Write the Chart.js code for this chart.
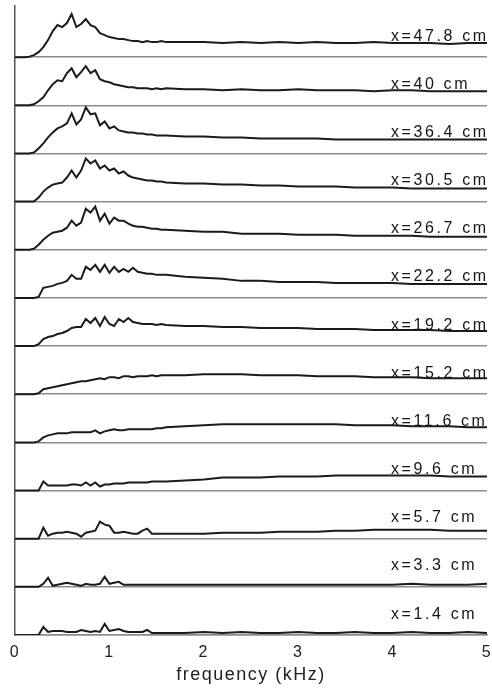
<!DOCTYPE html>
<html lang="en">
<head>
    <meta charset="UTF-8">
    <title>Spectra along the channel</title>
    <script src="https://cdn.jsdelivr.net/npm/chart.js"></script>
    <style>
        html, body { margin: 0; padding: 0; background: #fff; }
        #caixa { width: 492px; height: 689px; }
    </style>
</head>
<body>
    <div id="caixa"><canvas id="grafico"></canvas></div>

    <script>
        // frequency grid (kHz): fine up to 1.6 kHz, coarser above
        const freq = [0, 0.05, 0.1, 0.15, 0.2, 0.25, 0.3, 0.35, 0.4, 0.45, 0.5,
            0.55, 0.6, 0.65, 0.7, 0.75, 0.8, 0.85, 0.9, 0.95, 1, 1.05,
            1.1, 1.15, 1.2, 1.25, 1.3, 1.35, 1.4, 1.45, 1.5, 1.55, 1.6,
            1.8, 2, 2.2, 2.4, 2.6, 2.8, 3, 3.2, 3.4, 3.6, 3.8, 4, 4.2, 4.4, 4.6, 4.8, 5];

        // spectral level above each trace's own baseline (a.u.), one array per position
        const x478 = [0, 0, 0, 0.5, 2, 5, 10, 17, 26, 32, 30,
            34, 43, 30, 33, 38, 32, 30, 24, 22, 20, 19,
            18, 18, 17, 16, 16, 15, 16, 15, 15, 16, 15,
            15, 15, 14, 15, 14, 15, 14, 15, 14, 14, 15, 14, 14, 14, 13, 14, 14];
        const x400 = [0, 0, 0, 0, 1, 4, 8, 15, 21, 25, 24,
            32, 37, 28, 33, 39, 32, 35, 26, 24, 23, 21,
            20, 19, 18, 18, 17, 17, 17, 16, 17, 16, 17,
            16, 16, 15, 16, 15, 15, 16, 15, 15, 15, 14, 15, 15, 14, 14, 14, 14];
        const x364 = [0, 0, 0, 0, 1, 5, 10, 16, 21, 25, 27,
            30, 40, 29, 34, 46, 39, 40, 28, 32, 25, 27,
            23, 22, 21, 21, 20, 20, 19, 19, 18, 18, 18,
            17, 17, 16, 16, 15, 15, 15, 15, 14, 14, 14, 14, 14, 14, 14, 14, 14];
        const x305 = [0, 0, 0, 0, 0, 4, 10, 14, 17, 18, 19,
            24, 31, 24, 31, 43, 38, 41, 33, 36, 31, 33,
            28, 30, 26, 24, 23, 22, 21, 21, 20, 20, 19,
            18, 18, 17, 17, 16, 16, 15, 15, 15, 14, 14, 14, 13, 13, 13, 13, 13];
        const x267 = [0, 0, 0, 0, 1, 5, 10, 14, 17, 18, 19,
            22, 29, 24, 27, 41, 37, 43, 29, 36, 26, 32,
            29, 29, 26, 24, 23, 23, 22, 21, 21, 20, 20,
            19, 18, 18, 16, 16, 16, 15, 15, 15, 14, 14, 14, 14, 13, 13, 13, 13];
        const x222 = [0, 0, 0, 0, 0, 1, 10, 11, 12, 14, 15,
            17, 23, 19, 19, 31, 28, 33, 26, 33, 25, 31,
            26, 29, 26, 30, 26, 25, 24, 24, 23, 23, 23,
            21, 20, 19, 17, 17, 16, 16, 16, 15, 15, 15, 15, 14, 14, 14, 14, 14];
        const x192 = [0, 0, 0, 0, 0, 2, 7, 9, 10, 12, 13,
            15, 18, 19, 19, 27, 23, 28, 20, 29, 22, 20,
            27, 24, 28, 24, 23, 22, 22, 22, 21, 22, 21,
            20, 20, 19, 19, 18, 18, 18, 17, 17, 17, 16, 16, 16, 16, 15, 15, 15];
        const x152 = [0, 0, 0, 0, 0, 1, 5, 6, 7, 8, 9,
            10, 11, 12, 13, 13, 14, 15, 16, 15, 17, 17,
            16, 18, 18, 17, 18, 18, 18, 19, 18, 19, 19,
            19, 20, 20, 20, 19, 19, 19, 18, 18, 18, 17, 17, 17, 16, 16, 16, 16];
        const x116 = [0, 0, 0, 0, 0, 1, 5, 7, 8, 9, 9,
            9, 10, 10, 10, 10, 10, 12, 9, 11, 12, 13,
            12, 12, 13, 13, 13, 13, 13, 13, 14, 14, 15,
            16, 17, 18, 18, 18, 18, 18, 18, 18, 17, 17, 17, 16, 16, 16, 15, 15];
        const x96 = [0, 0, 0, 0, 0, 0, 9, 5, 5, 5, 5,
            5, 6, 6, 5, 8, 5, 8, 4, 6, 6, 7,
            7, 7, 8, 8, 8, 8, 8, 9, 9, 9, 9,
            10, 11, 13, 13, 13, 14, 14, 14, 15, 15, 15, 15, 15, 15, 14, 14, 14];
        const x57 = [0, 0, 0, 0, 0, 0, 11, 3, 5, 6, 6,
            7, 6, 5, 2, 6, 7, 8, 17, 14, 13, 6,
            6, 7, 6, 5, 5, 8, 10, 5, 5, 5, 5,
            5, 5, 6, 6, 6, 7, 7, 7, 8, 8, 9, 9, 9, 9, 8, 8, 8];
        const x33 = [0, 0, 0, 0, 0, 0, 3, 9, 1, 2, 3,
            4, 3, 2, 1, 3, 2, 2, 3, 10, 3, 4,
            5, 2, 2, 2, 2, 2, 2, 2, 2, 2, 2,
            2, 2, 2, 2, 2, 2, 2, 2, 2, 2, 2, 2, 3, 2, 2, 2, 3];
        const x14 = [0, 0, 0, 0, 0, 0, 8, 3, 4, 4, 4,
            3, 3, 3, 5, 4, 3, 4, 3, 11, 4, 5,
            6, 4, 3, 3, 3, 3, 5, 2, 2, 2, 2,
            2, 3, 2, 3, 2, 2, 3, 2, 2, 3, 2, 2, 3, 2, 2, 3, 2];

        // traces from top to bottom
        const rotulos = ["x=47.8 cm", "x=40 cm", "x=36.4 cm", "x=30.5 cm", "x=26.7 cm",
            "x=22.2 cm", "x=19.2 cm", "x=15.2 cm", "x=11.6 cm", "x=9.6 cm",
            "x=5.7 cm", "x=3.3 cm", "x=1.4 cm"];
        const series = [x478, x400, x364, x305, x267, x222, x192, x152, x116, x96, x57, x33, x14];
        const tickFreq = [0, 1, 2, 3, 4, 5];

        const ESPACO = 48;          // vertical shift between traces
        const fonte = '"Liberation Sans", Arial, sans-serif';

        function deslocamento(i) {
            return (series.length - 1 - i) * ESPACO;
        }

        const datasets = series.map((valores, i) => ({
            label: rotulos[i],
            data: valores.map((v, k) => ({ x: freq[k], y: deslocamento(i) + v })),
            borderColor: '#1b1b1b',
            borderWidth: 2,
            pointRadius: 0,
            tension: 0,
            fill: false
        }));

        // spaced-out text like the printed figure
        const espacamento = {
            id: 'espacamento',
            beforeDraw(chart) {
                chart.ctx.letterSpacing = '1.5px';
            }
        };

        // position label sitting above the right end of each trace
        const etiquetas = {
            id: 'etiquetas',
            afterDatasetsDraw(chart) {
                const ctx = chart.ctx;
                const y = chart.scales.y;
                ctx.save();
                ctx.font = '16px ' + fonte;
                ctx.fillStyle = '#151515';
                ctx.textAlign = 'left';
                ctx.textBaseline = 'alphabetic';
                ctx.letterSpacing = '2.6px';
                rotulos.forEach((txt, i) => {
                    ctx.fillText(txt, 391, y.getPixelForValue(deslocamento(i)) - 16.5);
                });
                ctx.restore();
            }
        };

        new Chart(document.getElementById('grafico'), {
            type: 'line',
            data: { datasets: datasets },
            plugins: [espacamento, etiquetas],
            options: {
                responsive: true,
                maintainAspectRatio: false,
                animation: false,
                layout: { padding: { top: 6, right: 5, left: 0, bottom: 0 } },
                plugins: {
                    legend: { display: false },
                    tooltip: { enabled: false }
                },
                scales: {
                    x: {
                        type: 'linear',
                        min: 0,
                        max: 5,
                        afterBuildTicks(s) { s.ticks = tickFreq.map(v => ({ value: v })); },
                        afterFit(s) {
                            s.height = 54;
                            s.paddingLeft = 0;
                            s.paddingRight = 0;
                        },
                        ticks: { padding: 8, color: '#222', font: { size: 16, family: fonte } },
                        grid: { display: false, drawTicks: false },
                        border: { display: true, color: '#8c8c8c', width: 1.5 },
                        title: {
                            display: true,
                            text: 'frequency (kHz)',
                            color: '#222',
                            font: { size: 18, family: fonte },
                            padding: { top: 0, bottom: 3 }
                        }
                    },
                    y: {
                        min: 0,
                        max: 627,
                        afterBuildTicks(s) { s.ticks = series.map((_, i) => ({ value: i * ESPACO })); },
                        afterFit(s) { s.width = 15; },
                        ticks: { display: false },
                        grid: { color: '#8c8c8c', lineWidth: 1.5, drawTicks: false },
                        border: { display: true, color: '#555', width: 1.5 }
                    }
                }
            }
        });
    </script>
</body>
</html>
